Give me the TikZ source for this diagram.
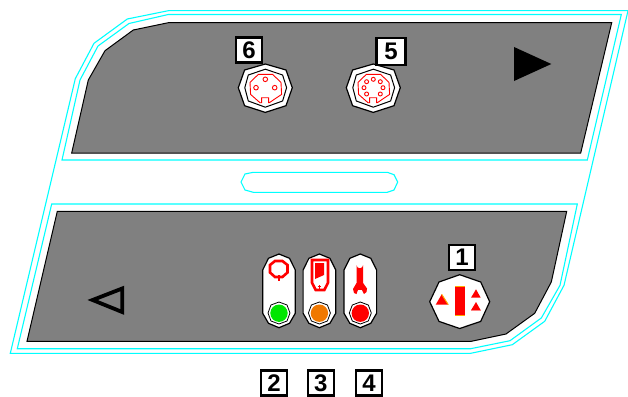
\documentclass[tikz,border=0pt]{standalone}
\usepackage{fontspec}
\setmainfont{Liberation Sans}
\usepackage{xcolor}
\definecolor{panelgray}{RGB}{128,128,128}
\definecolor{edgecyan}{RGB}{0,255,255}
\definecolor{ledgreen}{RGB}{0,230,0}
\definecolor{ledorange}{RGB}{240,120,0}
\definecolor{trimorange}{RGB}{255,170,0}
\definecolor{trimpink}{RGB}{255,130,130}
\begin{document}
\begin{tikzpicture}[
  x=1pt, y=-1pt,
  outline/.style={draw=edgecyan, line width=1.1pt},
  panel/.style={draw=black, fill=panelgray, line width=1pt},
  hull/.style={draw=black, fill=white, line width=1.2pt},
  thinline/.style={draw=black, line width=1pt},
  redline/.style={draw=red, line width=0.9pt},
  numbox/.style={draw=black, fill=white, line width=2.3pt, inner sep=0pt,
    minimum width=26pt, minimum height=25pt, font=\bfseries\fontsize{24}{24}\selectfont}
]
\useasboundingbox (0,0) rectangle (628,396);
% cyan outlines
\draw[outline] (168.3,10.7) -- (127.3,19) -- (94,43.3) -- (75.3,78.7) -- (10.3,353.3) -- (470.7,353.3)
  -- (512.3,344.7) -- (544.7,321.3) -- (564,285.3) -- (628,10.7) -- cycle;
\draw[outline] (168.3,14.5) -- (129,23.5) -- (98,46) -- (80,80) -- (62,160) -- (587.3,160) -- (621.3,14.5) -- cycle;
\draw[outline] (51.7,204) -- (17.3,348.7) -- (470.7,348.7) -- (510,340.7) -- (541.3,318) -- (560,285.3) -- (577.3,204) -- cycle;
\draw[outline] (253.3,172.3) -- (245,174) -- (241,182) -- (245,190) -- (253.3,192.3) -- (387.3,192.3)
  -- (394,190) -- (397.7,182) -- (394,174.7) -- (387.3,172.3) -- cycle;
% grey panels
\draw[panel] (168.3,22.7) -- (133.3,30) -- (105,50.7) -- (88.3,80) -- (71.7,153) -- (580.7,153) -- (611.7,22.7) -- cycle;
\draw[panel] (57.3,211.3) -- (27,341.3) -- (471.3,341.3) -- (506,334) -- (534.7,313.3) -- (551.3,282) -- (566.7,211.3) -- cycle;
% arrows
\fill[black] (514,47) -- (514,81) -- (551.3,64) -- cycle;
\draw[black, line width=3.8pt, miter limit=10] (122.2,288.5) -- (122.2,312) -- (92.6,300) -- cycle;
% sockets
\foreach \sx in {265.3,373.3} {
  \begin{scope}[shift={(\sx,87.7)}]
    \draw[hull] (0,-23.7) -- (20.7,-17.7) -- (27,0) -- (20.7,18) -- (0,24.7) -- (-20.7,18) -- (-27,0) -- (-20.7,-17.7) -- cycle;
    \draw[thinline] (0,-18.5) -- (17.3,-12.7) -- (21.3,0) -- (17.3,13.3) -- (0,19.5) -- (-17,13.3) -- (-20.5,0) -- (-17,-12.7) -- cycle;
    \draw[redline] (-7,-13.3) -- (7.3,-13.3) -- (15.7,-5.3) -- (16.3,6.7) -- (4,15) -- (3.3,15) -- (3.3,10) -- (-3.7,10) -- (-3.7,15)
      -- (-5.3,15) -- (-14.7,6.7) -- (-15.3,-5.3) -- cycle;
  \end{scope}
}
\foreach \hx/\hy in {265.3/79.3,256/87.7,274.7/87.7}
  \draw[redline] (\hx,\hy) circle (2.3);
\foreach \hx/\hy in {373.3/79.3,366.6/81.7,380.3/81.7,364/87.7,383/87.7,366.6/94,380.3/94}
  \draw[redline] (\hx,\hy) circle (2);
% indicator pills
\foreach \px/\ledcol in {279/ledgreen,319.4/ledorange,360.3/red} {
  \begin{scope}[shift={(\px,0)}]
    \draw[hull] (0,254) -- (10.5,258.3) -- (16.3,270) -- (16.3,313.3) -- (10.5,323.3) -- (0,327.7) -- (-10.5,323.3)
      -- (-16.3,313.3) -- (-16.3,270) -- (-10.5,258.3) -- cycle;
    \draw[thinline, line width=0.8pt] (0,302) -- (8,305) -- (11,313) -- (8,321) -- (0,324) -- (-8,321) -- (-11,313) -- (-8,305) -- cycle;
    \fill[\ledcol] (0,313.2) circle (8.7);
  \end{scope}
}
% indicator icons
\draw[red, line width=2.6pt] (275,261) -- (282.4,261) -- (287.5,265) -- (287.5,272.5) -- (282.4,277) -- (275,277) -- (270,272.5) -- (270,265) -- cycle;
\draw[red, line width=1.6pt] (278.7,275) -- (278.7,280.5);
\draw[red, line width=2.6pt] (312,260) -- (328,260) -- (328,282.7) -- (324.3,290) -- (315.7,290) -- (312,282.7) -- cycle;
\fill[red] (315,263) -- (324,263) -- (324,275) -- (315,279) -- cycle;
\draw[red, line width=0.9pt] (317.5,286.8) -- (321,286.8) (319.2,285) -- (319.2,288.6);
\fill[red] (356.5,265) arc[start angle=180, end angle=0, radius=3.3] -- (363.1,283) -- (367,288.5) -- (366.5,292) -- (364,294)
  -- (361.8,289.8) -- (358,289.8) -- (356.5,294) -- (354,293) -- (353,289) -- (356.5,283) -- cycle;
\fill[white] (359.8,264.7) circle (1);
% selector
\draw[hull] (459.7,274.7) -- (480.7,282) -- (489.7,301.7) -- (480.7,321.4) -- (459.7,328.5) -- (439,321.4) -- (429.7,301.7) -- (439,282) -- cycle;
\fill[red] (455,286) rectangle (465,316.3);
\draw[trimorange, line width=1.2pt] (455,286.5) -- (465,286.5) (455,315.8) -- (465,315.8);
\fill[red] (441.7,294.3) -- (435.7,304.7) -- (448.3,304.7) -- cycle;
\draw[trimorange, line width=1pt] (441.7,294.3) -- (448.3,304.7);
\fill[red] (476,289.3) -- (471,297.7) -- (480.7,297.7) -- cycle;
\fill[red] (476,302) -- (471,310.3) -- (480.7,310.3) -- cycle;
\draw[trimpink, line width=1pt] (471,310.6) -- (480.7,310.6);
% number boxes
\node[numbox] (box1) at (462,257.3) {1};
\node[numbox] (box2) at (274,383) {2};
\node[numbox] (box3) at (320.7,383) {3};
\node[numbox] (box4) at (369,383) {4};
\node[numbox, minimum width=29pt, minimum height=27pt] (box5) at (391,51.5) {5};
\node[numbox] (box6) at (249,50) {6};
\end{tikzpicture}
\end{document}
